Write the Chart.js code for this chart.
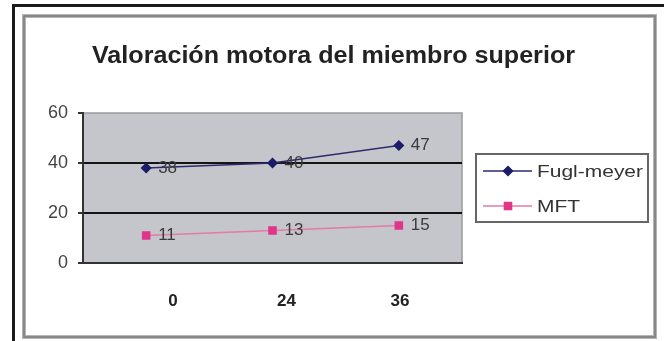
<!DOCTYPE html>
<html>
<head>
<meta charset="utf-8">
<script src="https://cdn.jsdelivr.net/npm/chart.js@4.4.1/dist/chart.umd.min.js"></script>
<style>
  html, body { margin: 0; padding: 0; background: #fff; }
  canvas { display: block; }
</style>
</head>
<body>
<canvas id="c" width="664" height="341"></canvas>
<script>
// Chart data
const chartTitle = 'Valoración motora del miembro superior';
const hours = ['0', '24', '36'];
const fuglMeyer = [38, 40, 47];
const mft = [11, 13, 15];
const seriesNames = ['Fugl-meyer', 'MFT'];
const yTicks = [0, 20, 40, 60];

const FONT = 'Arial, "Liberation Sans", sans-serif';

// Draw a text string squeezed/stretched to a given width
function fitText(ctx, text, x, y, width) {
  const w = ctx.measureText(text).width;
  ctx.save();
  ctx.translate(x, y);
  ctx.scale(width / w, 1);
  ctx.textAlign = 'left';
  ctx.fillText(text, 0, 0);
  ctx.restore();
}

// Frame, plot background and title
const framePlugin = {
  id: 'frame',
  beforeDraw(chart) {
    const ctx = chart.ctx;
    const a = chart.chartArea;
    ctx.save();
    ctx.fillStyle = '#fff';
    ctx.fillRect(0, 0, chart.width, chart.height);
    // outer dark rule
    ctx.strokeStyle = '#1a1a1a';
    ctx.lineWidth = 3;
    ctx.beginPath();
    ctx.moveTo(13.5, 341);
    ctx.lineTo(13.5, 5.5);
    ctx.lineTo(664, 5.5);
    ctx.stroke();
    // chart frame with a soft edge
    ctx.strokeStyle = '#b5b5b5';
    ctx.lineWidth = 4;
    ctx.strokeRect(24, 16, 631, 321);
    ctx.strokeStyle = '#7a7a7a';
    ctx.lineWidth = 1.5;
    ctx.strokeRect(24, 16, 631, 321);
    // plot area
    ctx.fillStyle = '#c4c6cc';
    ctx.fillRect(a.left, a.top, a.right - a.left, a.bottom - a.top);
    ctx.strokeStyle = '#9a9a9a';
    ctx.lineWidth = 1.5;
    ctx.beginPath();
    ctx.moveTo(a.left, a.top);
    ctx.lineTo(a.right, a.top);
    ctx.lineTo(a.right, a.bottom);
    ctx.stroke();
    // title
    ctx.fillStyle = '#222';
    ctx.font = 'bold 23px ' + FONT;
    ctx.textBaseline = 'alphabetic';
    fitText(ctx, chartTitle, 92, 63, 483);
    ctx.restore();
  }
};

// Value labels beside each point
const valueLabels = {
  id: 'valueLabels',
  afterDatasetsDraw(chart) {
    const ctx = chart.ctx;
    ctx.save();
    ctx.font = '17px ' + FONT;
    ctx.fillStyle = '#3a3a3a';
    ctx.textBaseline = 'middle';
    ctx.textAlign = 'left';
    chart.data.datasets.forEach((ds, i) => {
      chart.getDatasetMeta(i).data.forEach((pt, j) => {
        ctx.fillText(String(ds.data[j]), pt.x + 12, pt.y);
      });
    });
    ctx.restore();
  }
};

// Boxed legend at the right
const boxLegend = {
  id: 'boxLegend',
  afterDraw(chart) {
    const ctx = chart.ctx;
    ctx.save();
    ctx.strokeStyle = '#666';
    ctx.lineWidth = 2;
    ctx.strokeRect(476, 154, 172, 68);
    ctx.font = '17px ' + FONT;
    const sx = 106 / ctx.measureText(seriesNames[0]).width;
    chart.data.datasets.forEach((ds, i) => {
      const y = 171 + i * 35;
      ctx.strokeStyle = ds.borderColor;
      ctx.lineWidth = 1.5;
      ctx.beginPath();
      ctx.moveTo(483, y);
      ctx.lineTo(532, y);
      ctx.stroke();
      ctx.fillStyle = ds.pointBackgroundColor;
      ctx.strokeStyle = ds.pointBorderColor;
      Chart.helpers.drawPoint(ctx, {
        pointStyle: ds.pointStyle, radius: ds.pointRadius, borderWidth: 1, rotation: 0
      }, 508, y);
      ctx.fillStyle = '#333';
      ctx.textBaseline = 'middle';
      ctx.save();
      ctx.translate(537, y + 1);
      ctx.scale(sx, 1);
      ctx.fillText(ds.label, 0, 0);
      ctx.restore();
    });
    ctx.restore();
  }
};

new Chart(document.getElementById('c'), {
  type: 'line',
  data: {
    labels: hours,
    datasets: [
      {
        label: seriesNames[0],
        data: fuglMeyer,
        borderColor: '#2b2b6e',
        borderWidth: 1.5,
        pointStyle: 'rectRot',
        pointRadius: 4.5,
        pointBackgroundColor: '#1c1c66',
        pointBorderColor: '#1c1c66',
        tension: 0,
        xAxisID: 'x'
      },
      {
        label: seriesNames[1],
        data: mft,
        borderColor: '#e57aa6',
        borderWidth: 1.5,
        pointStyle: 'rect',
        pointRadius: 5,
        pointBackgroundColor: '#e0358a',
        pointBorderColor: '#e0358a',
        tension: 0,
        xAxisID: 'x'
      }
    ]
  },
  options: {
    responsive: false,
    animation: false,
    devicePixelRatio: 1,
    layout: { padding: { left: 40, top: 113, right: 202, bottom: 0 } },
    plugins: {
      legend: { display: false },
      title: { display: false },
      tooltip: { enabled: false }
    },
    scales: {
      x: {
        type: 'category',
        offset: true,
        display: false
      },
      x2: {
        type: 'linear',
        position: 'bottom',
        min: -0.793,
        max: 2.546,
        afterBuildTicks(axis) {
          axis.ticks = hours.map((h, i) => ({ value: i }));
        },
        afterFit(axis) { axis.height = 78; },
        grid: { display: false, drawTicks: false },
        border: { display: true, color: '#333', width: 2 },
        ticks: {
          autoSkip: false,
          maxRotation: 0,
          padding: 28,
          color: '#222',
          font: { family: FONT, size: 17, weight: 'bold' },
          callback: (v) => hours[v]
        }
      },
      y: {
        min: 0,
        max: 60,
        afterBuildTicks(axis) {
          axis.ticks = yTicks.map(v => ({ value: v }));
        },
        afterFit(axis) { axis.width = 43; },
        grid: {
          color: (c) => (c.tick && (c.tick.value === 20 || c.tick.value === 40)) ? '#151515' : 'rgba(0,0,0,0)',
          lineWidth: 2,
          tickColor: '#333',
          tickLength: 5,
          drawTicks: true
        },
        border: { display: true, color: '#333', width: 2 },
        ticks: {
          padding: 10,
          color: '#444',
          font: { family: FONT, size: 18 }
        }
      }
    }
  },
  plugins: [framePlugin, valueLabels, boxLegend]
});
</script>
</body>
</html>
